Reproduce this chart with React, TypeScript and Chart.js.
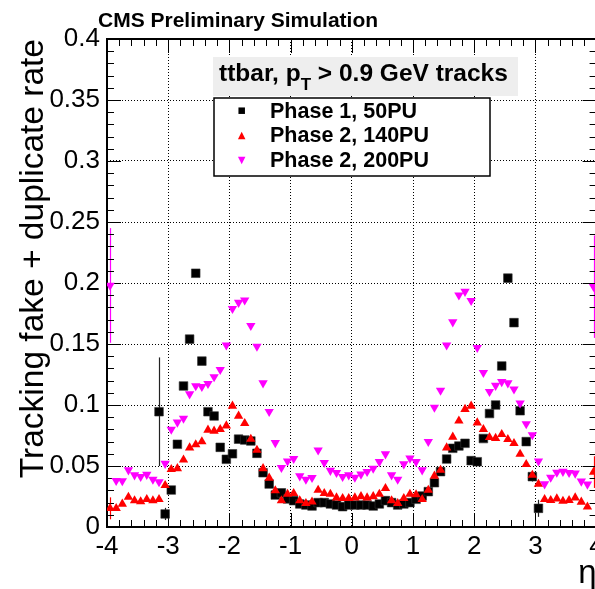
import { useEffect, useRef } from "react";
import { Chart, registerables } from "chart.js";

Chart.register(...registerables);

// Pseudorapidity binning: 80 bins of width 0.1 between -4 and 4
const etaMin = -4;
const etaMax = 4;
const etaBinWidth = 0.1;
const etaCentres = Array.from({ length: 80 }, (_, i) => +(etaMin + etaBinWidth * (i + 0.5)).toFixed(2));

// Tracking fake + duplicate rate per eta bin (null = no entry)
const phase1_50PU: (number | null)[] = [
  null, null, null, null, null, null, null, null, 0.0945, 0.0107,
  0.0303, 0.0678, 0.1156, 0.154, 0.208, 0.136, 0.0945, 0.091, 0.0653, 0.0555,
  0.060, 0.072, 0.0713, 0.0705, 0.0604, 0.0445, 0.0352, 0.0262, 0.028, 0.023,
  0.0216, 0.0189, 0.018, 0.0172, 0.020, 0.020, 0.0189, 0.018, 0.0167, 0.018,
  0.018, 0.018, 0.018, 0.0172, 0.0189, 0.0216, 0.020, 0.018, 0.0189, 0.020,
  0.0227, 0.0254, 0.029, 0.0363, 0.0454, 0.0557, 0.0645, 0.0664, 0.0686, 0.0544,
  0.0535, 0.0725, 0.093, 0.100, 0.132, 0.204, 0.1675, 0.0953, 0.070, 0.0413,
  0.0153, null, null, null, null, null, null, null, null, null,
];

const phase2_140PU: (number | null)[] = [
  0.0153, 0.0153, 0.0189, 0.0245, 0.0216, 0.0208, 0.0227, 0.0216, 0.0227, 0.0342,
  0.0473, 0.048, 0.055, 0.065, 0.0675, 0.070, 0.0795, 0.0787, 0.080, 0.083,
  0.0992, 0.091, 0.085, 0.072, 0.063, 0.048, 0.0402, 0.0298, 0.0216, 0.027,
  0.0276, 0.0216, 0.0194, 0.0206, 0.0303, 0.0276, 0.027, 0.024, 0.0235, 0.0235,
  0.024, 0.025, 0.024, 0.025, 0.027, 0.0317, 0.0216, 0.0194, 0.0235, 0.027,
  0.0265, 0.0227, 0.0303, 0.0418, 0.0467, 0.065, 0.0738, 0.087, 0.0965, 0.0992,
  0.0855, 0.080, 0.0735, 0.0728, 0.076, 0.0719, 0.0686, 0.0598, 0.0514, 0.0425,
  0.0352, 0.0227, 0.0218, 0.0232, 0.0212, 0.0218, 0.024, 0.0205, 0.0165, 0.045,
];

const phase2_200PU: (number | null)[] = [
  0.198, 0.038, 0.0378, 0.0467, 0.0426, 0.0413, 0.043, 0.039, 0.037, 0.052,
  0.080, 0.0858, 0.089, 0.109, 0.1156, 0.115, 0.1175, 0.123, 0.129, 0.149,
  0.179, 0.184, 0.186, 0.165, 0.148, 0.118, 0.0945, 0.069, 0.0486, 0.054,
  0.056, 0.0418, 0.039, 0.0405, 0.063, 0.0527, 0.0463, 0.0445, 0.0413, 0.0426,
  0.0407, 0.0432, 0.0454, 0.048, 0.0535, 0.0598, 0.0426, 0.039, 0.0516, 0.0563,
  0.0535, 0.0467, 0.070, 0.098, 0.112, 0.149, 0.168, 0.190, 0.193, 0.1855,
  0.147, 0.1265, 0.111, 0.116, 0.119, 0.118, 0.113, 0.1015, 0.0845, 0.0755,
  0.054, 0.0352, 0.0407, 0.0447, 0.0455, 0.0445, 0.044, 0.0375, 0.035, 0.197,
];

// Statistical uncertainties large enough to show: [bin index, error]
const phase1Errors: [number, number][] = [[8, 0.0445], [9, 0.005], [10, 0.003], [69, 0.004], [70, 0.007]];
const phase2_140Errors: [number, number][] = [[0, 0.009], [79, 0.013]];
const phase2_200Errors: [number, number][] = [[0, 0.047], [79, 0.042]];

const seriesLabels = ["Phase 1, 50PU", "Phase 2, 140PU", "Phase 2, 200PU"];
const seriesColors = ["#000000", "#ff0000", "#ff00ff"];

const xTickLabels = ["-4", "-3", "-2", "-1", "0", "1", "2", "3", "4"];
const yTickLabels = ["0", "0.05", "0.1", "0.15", "0.2", "0.25", "0.3", "0.35", "0.4"];

const yTitle = "Tracking fake + duplicate rate";
const xTitle = "\u03b7";
const headerText = "CMS Preliminary Simulation";

const FONT = '"Liberation Sans", Arial, Helvetica, sans-serif';

const toPoints = (vals: (number | null)[]) =>
  etaCentres
    .map((x, i) => ({ x, y: vals[i] }))
    .filter((p) => p.y !== null) as { x: number; y: number }[];

function drawMarker(ctx: CanvasRenderingContext2D, kind: number, cx: number, cy: number, s: number) {
  ctx.fillStyle = seriesColors[kind];
  ctx.beginPath();
  if (kind === 0) {
    ctx.rect(cx - s / 2, cy - s / 2, s, s);
  } else if (kind === 1) {
    ctx.moveTo(cx, cy - s / 2);
    ctx.lineTo(cx + s / 2, cy + s / 2);
    ctx.lineTo(cx - s / 2, cy + s / 2);
  } else {
    ctx.moveTo(cx, cy + s / 2);
    ctx.lineTo(cx + s / 2, cy - s / 2);
    ctx.lineTo(cx - s / 2, cy - s / 2);
  }
  ctx.closePath();
  ctx.fill();
}

const framePlugin = {
  id: "frameTicksErrors",
  beforeDatasetsDraw(chart: any) {
    const { ctx, chartArea: a } = chart;
    const xs = chart.scales.x;
    const ys = chart.scales.y;
    ctx.save();

    // error bars
    const errSets: [[number, number][], (number | null)[], string][] = [
      [phase1Errors, phase1_50PU, "#222222"],
      [phase2_140Errors, phase2_140PU, seriesColors[1]],
      [phase2_200Errors, phase2_200PU, seriesColors[2]],
    ];
    ctx.lineWidth = 1.2;
    for (const [errs, vals, col] of errSets) {
      ctx.strokeStyle = col;
      for (const [i, e] of errs) {
        const v = vals[i];
        if (v === null) continue;
        const px = Math.round(xs.getPixelForValue(etaCentres[i])) + 0.5;
        ctx.beginPath();
        ctx.moveTo(px, ys.getPixelForValue(v - e));
        ctx.lineTo(px, ys.getPixelForValue(v + e));
        ctx.stroke();
      }
    }

    // frame
    ctx.strokeStyle = "#000";
    ctx.lineWidth = 2;
    ctx.strokeRect(a.left, a.top, a.right - a.left, a.bottom - a.top);

    // inward ticks: x every 0.2 (major every 1), y every 0.01 (major every 0.05)
    ctx.lineWidth = 1;
    ctx.beginPath();
    for (let i = 0; i <= 40; i++) {
      const px = Math.round(xs.getPixelForValue(etaMin + i * 0.2)) + 0.5;
      const len = i % 5 === 0 ? 14 : 7;
      ctx.moveTo(px, a.bottom);
      ctx.lineTo(px, a.bottom - len);
      ctx.moveTo(px, a.top);
      ctx.lineTo(px, a.top + len);
    }
    for (let i = 0; i <= 40; i++) {
      const py = Math.round(ys.getPixelForValue(i * 0.01)) + 0.5;
      const len = i % 5 === 0 ? 14 : 7;
      ctx.moveTo(a.left, py);
      ctx.lineTo(a.left + len, py);
      ctx.moveTo(a.right, py);
      ctx.lineTo(a.right - len, py);
    }
    ctx.stroke();
    ctx.restore();
  },
  afterDraw(chart: any) {
    const { ctx, chartArea: a } = chart;
    ctx.save();
    ctx.fillStyle = "#000";

    // header
    ctx.font = `bold 21px ${FONT}`;
    ctx.textAlign = "left";
    ctx.textBaseline = "alphabetic";
    ctx.fillText(headerText, 98, 27);

    // y title
    ctx.save();
    ctx.font = `33.5px ${FONT}`;
    ctx.translate(43, a.top);
    ctx.rotate(-Math.PI / 2);
    ctx.textAlign = "right";
    ctx.fillText(yTitle, 0, 0);
    ctx.restore();

    // x title
    ctx.font = `33px ${FONT}`;
    ctx.textAlign = "right";
    ctx.fillText(xTitle, a.right, 583);

    // selection label on grey band
    ctx.fillStyle = "#eeeeee";
    ctx.fillRect(213, 57, 305, 39);
    ctx.fillStyle = "#000";
    ctx.textAlign = "left";
    ctx.font = `bold 24.5px ${FONT}`;
    let tx = 219;
    const part1 = "ttbar, p";
    ctx.fillText(part1, tx, 81);
    tx += ctx.measureText(part1).width;
    ctx.font = `bold 17px ${FONT}`;
    ctx.fillText("T", tx, 90);
    tx += ctx.measureText("T").width;
    ctx.font = `bold 24.5px ${FONT}`;
    ctx.fillText(" > 0.9 GeV tracks", tx, 81);

    // legend
    ctx.fillStyle = "#fff";
    ctx.fillRect(214, 98, 276, 78);
    ctx.strokeStyle = "#000";
    ctx.lineWidth = 1.5;
    ctx.strokeRect(214, 98, 276, 78);
    const rows = [110.7, 135.5, 160.5];
    ctx.font = `bold 21.5px ${FONT}`;
    ctx.textBaseline = "middle";
    seriesLabels.forEach((lab, k) => {
      drawMarker(ctx, k, 241.7, rows[k], k === 0 ? 6.5 : 7.5);
      ctx.fillStyle = "#000";
      ctx.fillText(lab, 270, rows[k] + 1);
    });
    ctx.restore();
  },
};

export default function App() {
  const canvasRef = useRef<HTMLCanvasElement | null>(null);

  useEffect(() => {
    document.documentElement.style.overflow = "hidden";
    document.body.style.margin = "0";
    document.body.style.overflow = "hidden";
    const canvas = canvasRef.current;
    if (!canvas) return;

    const chart = new Chart(canvas, {
      type: "scatter",
      data: {
        datasets: [
          {
            label: seriesLabels[0],
            data: toPoints(phase1_50PU),
            pointStyle: "rect",
            pointRadius: 6.1,
            backgroundColor: seriesColors[0],
            borderColor: "#333333",
            borderWidth: 0.6,
            order: 3,
          },
          {
            label: seriesLabels[1],
            data: toPoints(phase2_140PU),
            pointStyle: "triangle",
            pointRadius: 5.4,
            backgroundColor: seriesColors[1],
            borderColor: seriesColors[1],
            borderWidth: 0,
            order: 2,
          },
          {
            label: seriesLabels[2],
            data: toPoints(phase2_200PU),
            pointStyle: "triangle",
            pointRotation: 180,
            pointRadius: 5.4,
            backgroundColor: seriesColors[2],
            borderColor: seriesColors[2],
            borderWidth: 0,
            order: 1,
          },
        ] as any,
      },
      options: {
        animation: false,
        responsive: false,
        devicePixelRatio: 1,
        events: [],
        layout: { padding: { left: 0, right: 13.4, top: 39, bottom: 0 } },
        plugins: { legend: { display: false }, tooltip: { enabled: false } },
        scales: {
          x: {
            type: "linear",
            min: etaMin,
            max: etaMax,
            afterFit: (s: any) => {
              s.height = 62;
            },
            afterBuildTicks: (s: any) => {
              s.ticks = xTickLabels.map((_, i) => ({ value: etaMin + i }));
            },
            ticks: {
              autoSkip: false,
              maxRotation: 0,
              padding: 4,
              color: "#000",
              font: { family: FONT, size: 26 },
              callback: (_v: any, i: number) => xTickLabels[i],
            },
            grid: { color: "#000", lineWidth: 1, drawTicks: false },
            border: { display: false, dash: [1, 2] },
          },
          y: {
            type: "linear",
            min: 0,
            max: 0.4,
            afterFit: (s: any) => {
              s.width = 107;
            },
            afterBuildTicks: (s: any) => {
              s.ticks = yTickLabels.map((_, i) => ({ value: i * 0.05 }));
            },
            ticks: {
              autoSkip: false,
              padding: 7,
              color: "#000",
              font: { family: FONT, size: 26 },
              callback: (_v: any, i: number) => yTickLabels[i],
            },
            grid: { color: "#000", lineWidth: 1, drawTicks: false },
            border: { display: false, dash: [1, 2] },
          },
        },
      },
      plugins: [framePlugin],
    });

    return () => chart.destroy();
  }, []);

  return (
    <canvas
      ref={canvasRef}
      width={610}
      height={589}
      style={{ display: "block", width: "610px", height: "589px" }}
    />
  );
}
